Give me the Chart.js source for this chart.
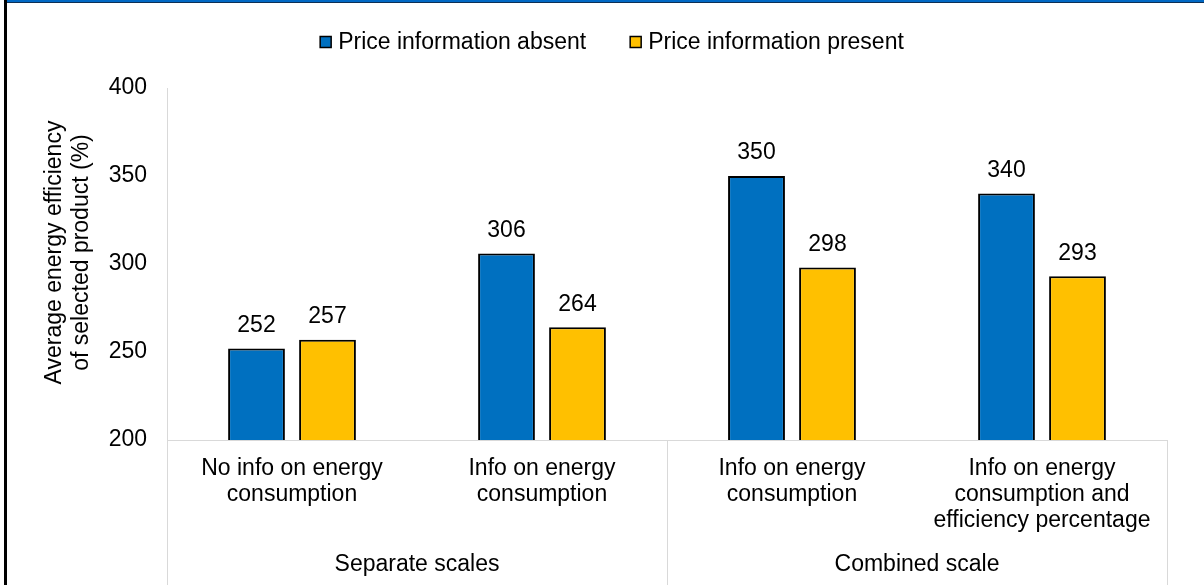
<!DOCTYPE html>
<html>
<head>
<meta charset="utf-8">
<script src="https://cdn.jsdelivr.net/npm/chart.js@4.4.1/dist/chart.umd.min.js"></script>
<style>
  html, body { margin: 0; padding: 0; background: #fff; }
  #wrap { position: relative; width: 1204px; height: 585px; overflow: hidden; }
  #wrap canvas { position: absolute; left: 0; top: 0; }
  #frameTop { position: absolute; left: 4px; top: 0; right: 0; height: 2px; background: #0068c4; border-bottom: 1px solid #0d2f55; }
  #frameLeft { position: absolute; left: 4px; top: 0; bottom: 0; width: 3px; background: #000; }
</style>
</head>
<body>
<div id="wrap">
  <canvas id="c" width="1204" height="585"></canvas>
  <div id="frameTop"></div>
  <div id="frameLeft"></div>
</div>
<script>
// Categories (inner level) and their outer groups
const categories = [
  ['No info on energy', 'consumption'],
  ['Info on energy', 'consumption'],
  ['Info on energy', 'consumption'],
  ['Info on energy', 'consumption and', 'efficiency percentage']
];
const groups = ['Separate scales', 'Combined scale'];
const groupSizes = [2, 2];

// Average energy efficiency of the selected product (%)
const priceAbsent = [252, 306, 350, 340];
const pricePresent = [257, 264, 298, 293];
const seriesNames = ['Price information absent', 'Price information present'];

const yTicks = [200, 250, 300, 350, 400];
const yTitle = ['Average energy efficiency', 'of selected product (%)'];

const FONT = '"Liberation Sans", Arial, sans-serif';
const FSIZE = 23;
const TEXT = '#000';
const LINE = '#d9d9d9';
const BLUE = '#0070c0';
const GOLD = '#ffc000';

// Values printed above each bar
const valueLabels = {
  id: 'valueLabels',
  afterDatasetsDraw(chart) {
    const ctx = chart.ctx;
    ctx.save();
    ctx.font = `${FSIZE}px ${FONT}`;
    ctx.fillStyle = TEXT;
    ctx.textAlign = 'center';
    ctx.textBaseline = 'middle';
    chart.data.datasets.forEach((ds, di) => {
      chart.getDatasetMeta(di).data.forEach((bar, i) => {
        ctx.fillText(String(ds.data[i]), bar.x, bar.y - 23);
      });
    });
    ctx.restore();
  }
};

// Outer category level: separators and group names
const groupAxis = {
  id: 'groupAxis',
  afterDraw(chart) {
    const ctx = chart.ctx;
    const xs = chart.scales.x;
    const half = (xs.getPixelForValue(1) - xs.getPixelForValue(0)) / 2;
    const top = chart.chartArea.bottom;
    const bottom = chart.height;
    ctx.save();
    ctx.strokeStyle = LINE;
    ctx.lineWidth = 1;
    ctx.font = `${FSIZE}px ${FONT}`;
    ctx.fillStyle = TEXT;
    ctx.textAlign = 'center';
    ctx.textBaseline = 'middle';
    let start = 0;
    const drawSep = (px) => {
      const x = Math.round(px) + 0.5;
      ctx.beginPath();
      ctx.moveTo(x, top);
      ctx.lineTo(x, bottom);
      ctx.stroke();
    };
    drawSep(xs.getPixelForValue(0) - half);
    groups.forEach((g, gi) => {
      const end = start + groupSizes[gi] - 1;
      const left = xs.getPixelForValue(start) - half;
      const right = xs.getPixelForValue(end) + half;
      drawSep(right);
      ctx.fillText(g, (left + right) / 2, top + 125);
      start = end + 1;
    });
    ctx.restore();
  }
};

// Two-line rotated title for the value axis
const valueAxisTitle = {
  id: 'valueAxisTitle',
  afterDraw(chart) {
    const ctx = chart.ctx;
    const area = chart.chartArea;
    const cy = (area.top + area.bottom) / 2 - 11.5;
    ctx.save();
    ctx.font = `${FSIZE}px ${FONT}`;
    ctx.fillStyle = TEXT;
    ctx.textAlign = 'center';
    ctx.textBaseline = 'middle';
    yTitle.forEach((line, i) => {
      ctx.save();
      ctx.translate(area.left - 112 + i * 27, cy);
      ctx.rotate(-Math.PI / 2);
      ctx.fillText(line, 0, 0);
      ctx.restore();
    });
    ctx.restore();
  }
};

// Legend row above the plot
const legendRow = {
  id: 'legendRow',
  afterDraw(chart) {
    const ctx = chart.ctx;
    const box = 11, gap = 7, spacing = 44, cy = 42;
    ctx.save();
    ctx.font = `${FSIZE}px ${FONT}`;
    ctx.textBaseline = 'middle';
    ctx.textAlign = 'left';
    const items = chart.data.datasets.map(ds => ({
      label: ds.label, color: ds.backgroundColor, w: ctx.measureText(ds.label).width
    }));
    const total = items.reduce((s, it) => s + box + gap + it.w, 0) + spacing * (items.length - 1);
    let x = chart.width / 2 + 10 - total / 2;
    items.forEach(it => {
      ctx.fillStyle = it.color;
      ctx.fillRect(x, cy - box / 2, box, box);
      ctx.strokeStyle = '#000';
      ctx.lineWidth = 1.5;
      ctx.strokeRect(x, cy - box / 2, box, box);
      ctx.fillStyle = TEXT;
      ctx.fillText(it.label, x + box + gap, cy + 1);
      x += box + gap + it.w + spacing;
    });
    ctx.restore();
  }
};

new Chart(document.getElementById('c'), {
  type: 'bar',
  data: {
    labels: categories,
    datasets: [
      { label: seriesNames[0], data: priceAbsent, backgroundColor: BLUE, borderColor: '#000', borderWidth: 2 },
      { label: seriesNames[1], data: pricePresent, backgroundColor: GOLD, borderColor: '#000', borderWidth: 2 }
    ]
  },
  options: {
    responsive: false,
    animation: false,
    devicePixelRatio: 1,
    layout: { padding: { top: 88, right: 37, bottom: 0, left: 0 } },
    datasets: { bar: { categoryPercentage: 0.568, barPercentage: 0.80 } },
    plugins: {
      legend: { display: false },
      tooltip: { enabled: false },
      title: { display: false }
    },
    scales: {
      x: {
        grid: { display: false, drawTicks: false },
        border: { display: true, color: LINE, width: 1 },
        ticks: {
          autoSkip: false,
          maxRotation: 0,
          minRotation: 0,
          padding: 15,
          color: TEXT,
          font: { family: FONT, size: FSIZE, lineHeight: 1.15 }
        },
        afterFit(scale) { scale.height = 145; }
      },
      y: {
        min: 200,
        max: 400,
        grid: { display: false, drawTicks: false },
        border: { display: true, color: LINE, width: 1 },
        afterBuildTicks(scale) { scale.ticks = yTicks.map(v => ({ value: v })); },
        ticks: {
          padding: 20,
          color: TEXT,
          font: { family: FONT, size: FSIZE }
        },
        afterFit(scale) { scale.width = 167; }
      }
    }
  },
  plugins: [valueLabels, groupAxis, valueAxisTitle, legendRow]
});
</script>
</body>
</html>
